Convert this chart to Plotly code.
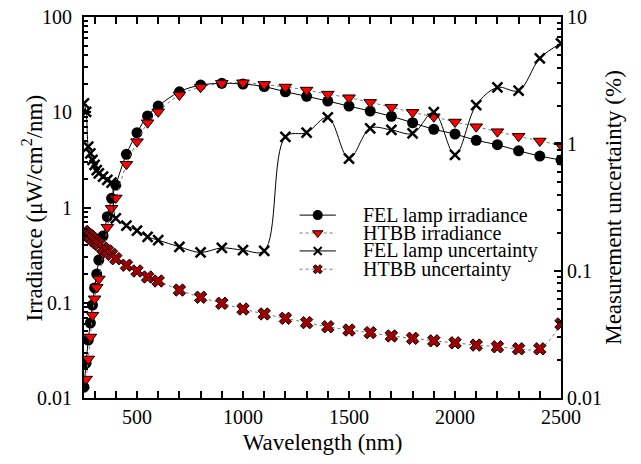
import plotly.graph_objects as go

wavelength = [250, 260, 270, 280, 290, 300, 310, 320, 340, 360, 380, 400, 450, 500, 550, 600,
              700, 800, 900, 1000, 1100, 1200, 1300, 1400, 1500, 1600, 1700, 1800, 1900,
              2000, 2100, 2200, 2300, 2400, 2500]

fel_irradiance = [0.0130, 0.0233, 0.0406, 0.0613, 0.0946, 0.143, 0.200, 0.281, 0.502, 0.80, 1.25, 1.72,
                  3.62, 6.10, 9.14, 11.6, 16.4, 19.3, 20.1, 19.8, 18.6, 16.4, 14.7, 13.1, 11.6,
                  10.3, 9.06, 7.76, 6.62, 5.91, 5.07, 4.56, 3.94, 3.47, 3.15]

htbb_wavelength = wavelength[1:]
htbb_irradiance = [0.0158, 0.0257, 0.0437, 0.074, 0.110, 0.145, 0.178, 0.33, 0.62, 0.98, 1.26,
                   2.84, 4.91, 7.76, 10.1, 15.2, 18.3, 20.1, 20.4, 19.6, 18.4, 17.1, 15.5, 14.2,
                   12.7, 11.3, 9.98, 8.97, 7.90, 7.05, 6.25, 5.59, 4.99, 4.50]

fel_uncertainty = [2.09, 1.79, 0.953, 0.845, 0.749, 0.684, 0.624, 0.587, 0.553, 0.521, 0.496, 0.260,
                   0.228, 0.208, 0.186, 0.175, 0.155, 0.140, 0.152, 0.146, 0.144, 1.14, 1.23, 1.62,
                   0.766, 1.33, 1.29, 1.21, 1.78, 0.82, 2.02, 2.79, 2.63, 4.73, 6.21]

htbb_uncertainty = [0.205, 0.197, 0.192, 0.186, 0.180, 0.173, 0.167, 0.162, 0.151, 0.144, 0.135, 0.125,
                    0.111, 0.100, 0.0897, 0.0834, 0.0708, 0.0621, 0.0557, 0.0502, 0.0459, 0.0424,
                    0.0392, 0.0364, 0.0343, 0.0327, 0.0308, 0.0295, 0.0282, 0.0272, 0.0261, 0.0253,
                    0.0244, 0.0244, 0.0383]

legend_labels = ["FEL lamp irradiance", "HTBB irradiance", "FEL lamp uncertainty", "HTBB uncertainty"]

FONT = "Times New Roman, Liberation Serif, serif"

styles = [
    dict(line=dict(color="black", width=1, shape="spline"),
         marker=dict(symbol="circle", size=11, color="black")),
    dict(line=dict(color="#777777", width=1, dash="dot", shape="spline"),
         marker=dict(symbol="triangle-down", size=11, color="#ff0000", line=dict(color="black", width=1))),
    dict(line=dict(color="black", width=1, shape="spline"),
         marker=dict(symbol="x-thin", size=10, color="black", line=dict(color="black", width=2.5))),
    dict(line=dict(color="#777777", width=1, dash="dot", shape="spline"),
         marker=dict(symbol="x", size=11, color="#a00000", line=dict(color="black", width=1))),
]
legend_marker_sizes = [10, 9, 8, 8]

fig = go.Figure()
series = [(wavelength, fel_irradiance, "y"), (htbb_wavelength, htbb_irradiance, "y"),
          (wavelength, fel_uncertainty, "y2"), (wavelength, htbb_uncertainty, "y2")]
for (xs, ys, ax), st, name in zip(series, styles, legend_labels):
    fig.add_trace(go.Scatter(x=xs, y=ys, name=name, mode="lines+markers", yaxis=ax,
                             showlegend=False, hoverinfo="x+y+name", **st))

# Manual legend (compact rows like the reference), drawn in a hidden helper axis
row_y = [0.480, 0.433, 0.386, 0.338]
for i, (st, name) in enumerate(zip(styles, legend_labels)):
    mk = dict(st["marker"])
    mk["size"] = legend_marker_sizes[i]
    if i == 2:
        mk["line"] = dict(color="black", width=2)
    ln = dict(st["line"])
    ln.pop("shape", None)
    fig.add_trace(go.Scatter(x=[0.452, 0.528], y=[row_y[i]] * 2, mode="lines", line=ln,
                             xaxis="x2", yaxis="y3", showlegend=False, hoverinfo="skip"))
    fig.add_trace(go.Scatter(x=[0.490], y=[row_y[i]], mode="markers", marker=mk,
                             xaxis="x2", yaxis="y3", showlegend=False, hoverinfo="skip"))
    fig.add_annotation(x=0.580, y=row_y[i], xref="x2", yref="y3", text=name, showarrow=False,
                       xanchor="left", yanchor="middle",
                       font=dict(family=FONT, size=20, color="black"))

TITLE_FONT = dict(family=FONT, size=23, color="black")

# Left y-axis title placed like the reference
fig.add_annotation(x=-0.107, y=0.5, xref="paper", yref="paper", xanchor="center", yanchor="middle",
                   text="Irradiance (μW/cm<sup>2</sup>/nm)", textangle=-90, showarrow=False,
                   font=TITLE_FONT)

axis_common = dict(showline=True, linecolor="black", linewidth=2, ticks="inside",
                   tickcolor="black", tickwidth=1.5, showgrid=False, zeroline=False,
                   automargin=False,
                   tickfont=dict(family=FONT, size=20, color="black"))

fig.update_layout(
    width=641, height=464,
    margin=dict(l=84, r=80, t=17, b=66),
    paper_bgcolor="white", plot_bgcolor="white",
    font=dict(family=FONT, color="black"),
    showlegend=False,
    xaxis=dict(range=[250, 2500], tick0=0, dtick=500, ticklen=7, mirror="allticks",
               minor=dict(dtick=100, tick0=0, ticks="inside", ticklen=4, tickcolor="black"),
               title=dict(text="Wavelength (nm)", font=TITLE_FONT, standoff=7),
               **axis_common),
    yaxis=dict(type="log", range=[-2, 2], ticklen=7, ticklabelstandoff=6,
               tickvals=[0.01, 0.1, 1, 10, 100], ticktext=["0.01", "0.1", "1", "10", "100"],
               minor=dict(ticks="inside", ticklen=4, tickcolor="black",
                          tickvals=[m * 10 ** e for e in range(-2, 2) for m in range(2, 10)]),
               **axis_common),
    yaxis2=dict(type="log", range=[-2, 1], overlaying="y", side="right", ticklen=7,
                tickvals=[0.01, 0.1, 1, 10], ticktext=["0.01", "0.1", "1", "10"],
                minor=dict(ticks="inside", ticklen=4, tickcolor="black",
                           tickvals=[m * 10 ** e for e in range(-2, 1) for m in range(2, 10)]),
                title=dict(text="Measurement uncertainty (%)", font=TITLE_FONT, standoff=4),
                **axis_common),
    xaxis2=dict(range=[0, 1], overlaying="x", visible=False, fixedrange=True),
    yaxis3=dict(range=[0, 1], overlaying="y", visible=False, fixedrange=True),
)

fig.write_html("out.html", config={"displayModeBar": False},
               post_script="document.documentElement.style.margin='0';document.body.style.margin='0';document.body.style.padding='0';")
